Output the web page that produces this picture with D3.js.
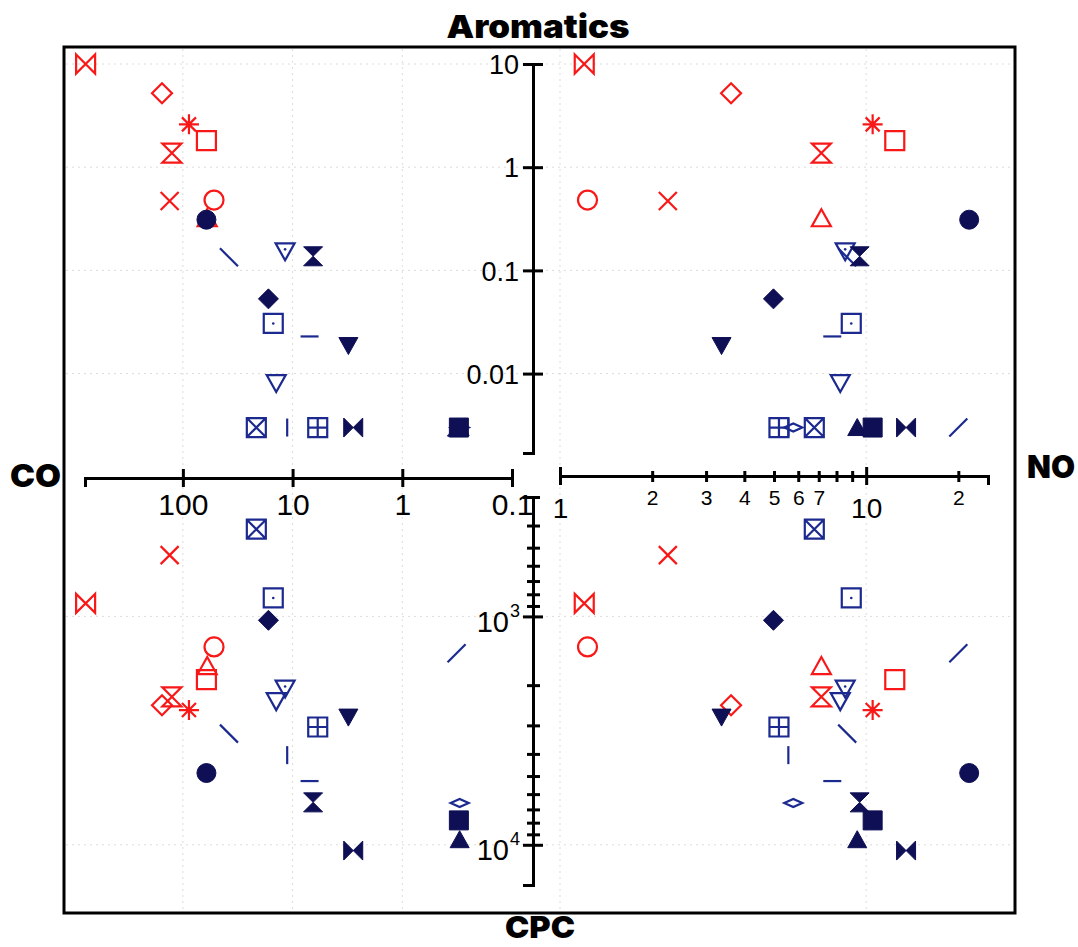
<!DOCTYPE html>
<html>
<head>
<meta charset="utf-8">
<script src="https://cdn.jsdelivr.net/npm/d3@7"></script>
<style>
  body { margin: 0; background: #fff; }
  svg text { font-family: "Liberation Sans", Arial, sans-serif; fill: #000; }
  .title { font-family: Inter, "Liberation Sans", Arial, sans-serif; font-weight: 900; font-size: 32px; }
</style>
</head>
<body>
<div id="chart"></div>
<script>
// one entry per sample, drawn in this order (red group first)
const symbolKeys = [
    "bowtieOpen", "diamondOpen", "asterisk", "squareOpen", "hourglassOpen", "cross", "circleOpen", "triUpOpen",
    "backslash", "slash", "triDownDot", "squareDot", "triDownOpen", "dash", "vbar", "squareX", "squarePlus", "flatDiamond",
    "circleFilled", "hourglassFilled", "diamondFilled", "triDownFilled", "bowtieFilled", "triUpFilled", "squareFilled"
];
const coValues = [770, 155, 88, 61, 126, 132, 52, 60,
    38, 0.32, 11.7, 15, 14.1, 7.0, 11.2, 21.4, 5.9, 0.3,
    61, 6.5, 16.6, 3.1, 2.8, 0.3, 0.305];
const noValues = [1.20, 3.62, 10.5, 12.4, 7.14, 2.25, 1.23, 7.14,
    8.67, 20, 8.54, 8.94, 8.23, 7.75, 5.57, 6.77, 5.19, 5.78,
    21.7, 9.52, 4.98, 3.37, 13.5, 9.35, 10.5];
const aromaticsValues = [10, 5.2, 2.6, 1.81, 1.37, 0.47, 0.48, 0.32,
    0.134, 0.003, 0.153, 0.0306, 0.0081, 0.0229, 0.003, 0.003, 0.003, 0.003,
    0.31, 0.137, 0.053, 0.0187, 0.003, 0.003, 0.003];
const cpcValues = [877, 2450, 2570, 1890, 2250, 539, 1360, 1650,
    3260, 1450, 2070, 830, 2350, 5260, 4050, 415, 3050, 6560,
    4850, 6520, 1040, 2760, 10600, 9500, 7820];

// tick values / labels
const coTicks = [100, 10, 1, 0.1];
const aromaticsTicks = [10, 1, 0.1, 0.01];
const noMajorTicks = [1, 10];
const noMinorTicks = [2, 3, 4, 5, 6, 7, 8, 9, 20];
const noMinorLabels = {2: "2", 3: "3", 4: "4", 5: "5", 6: "6", 7: "7", 20: "2"};
const cpcMajorTicks = [1000, 10000];
const cpcMinorTicks = [300, 400, 500, 600, 700, 800, 900, 2000, 3000, 4000, 5000, 6000, 7000, 8000, 9000];

const data = symbolKeys.map((s, i) => ({
    symbol: s, co: coValues[i], no: noValues[i], arom: aromaticsValues[i], cpc: cpcValues[i]
}));

const width = 1078, height = 947;
const axisX = 533;      // shared vertical axis (Aromatics / CPC)
const coAxisY = 478, noAxisY = 476;

const red = "#f81818", navyLine = "#1c2a90", navyFill = "#0e0f55";

// Scales
const coScale = d3.scaleLog().domain([780, 0.1]).range([85, 512]);
const noScale = d3.scaleLog().domain([1, 25]).range([560, 988]);
const aromScale = d3.scaleLog().domain([0.0017, 10]).range([453, 64]);
const cpcScale = d3.scaleLog().domain([300, 15000]).range([497, 885]);

const svg = d3.select("#chart").append("svg")
    .attr("width", width)
    .attr("height", height);

// faint dotted grid
const grid = svg.append("g").attr("stroke", "#dcdcdc").attr("stroke-dasharray", "2,4").attr("stroke-width", 1);
aromaticsTicks.forEach(v => {
    grid.append("line").attr("x1", 66).attr("x2", 1013).attr("y1", aromScale(v)).attr("y2", aromScale(v));
});
cpcMajorTicks.forEach(v => {
    grid.append("line").attr("x1", 66).attr("x2", 1013).attr("y1", cpcScale(v)).attr("y2", cpcScale(v));
});
[100, 10, 1].forEach(v => {
    grid.append("line").attr("x1", coScale(v)).attr("x2", coScale(v)).attr("y1", 49).attr("y2", 911);
});
[1, 10].forEach(v => {
    grid.append("line").attr("x1", noScale(v)).attr("x2", noScale(v)).attr("y1", 49).attr("y2", 911);
});

// frame
svg.append("rect")
    .attr("x", 64).attr("y", 47).attr("width", 951).attr("height", 866)
    .attr("fill", "none").attr("stroke", "#000").attr("stroke-width", 3);

function styleAxis(g, w) {
    g.select(".domain").attr("stroke", "#000").attr("stroke-width", w);
    g.selectAll(".tick line").attr("stroke", "#000").attr("stroke-width", w);
    g.selectAll("text").attr("fill", "#000").attr("font-family", "'Liberation Sans', Arial, sans-serif");
}

// CO axis (left, reversed)
const coAxis = svg.append("g")
    .attr("transform", `translate(0,${coAxisY})`)
    .call(d3.axisBottom(coScale).tickValues(coTicks).tickFormat(d3.format("~g")).tickSizeOuter(0).tickSize(9));
coAxis.selectAll(".tick line").attr("y1", -9).attr("y2", 9);
coAxis.selectAll(".tick text").attr("y", 37).attr("dy", null).attr("font-size", 30);
styleAxis(coAxis, 3);

// NO axis (right)
const noAxis = svg.append("g")
    .attr("transform", `translate(0,${noAxisY})`)
    .call(d3.axisBottom(noScale).tickValues(noMajorTicks).tickFormat(d3.format("~g")).tickSizeOuter(0).tickSize(9));
noAxis.selectAll(".tick line").attr("y1", -9).attr("y2", 9);
noAxis.selectAll(".tick text").attr("y", 42).attr("dy", null).attr("font-size", 28);
styleAxis(noAxis, 3);
const noMinor = svg.append("g")
    .attr("transform", `translate(0,${noAxisY})`)
    .call(d3.axisBottom(noScale).tickValues(noMinorTicks).tickFormat(d => noMinorLabels[d] || "").tickSizeOuter(0).tickSize(6));
noMinor.select(".domain").remove();
noMinor.selectAll(".tick line").attr("y1", -5).attr("y2", 6);
noMinor.selectAll(".tick text").attr("y", 29).attr("dy", null).attr("font-size", 21);
styleAxis(noMinor, 3);

// Aromatics axis (top)
const aromAxis = svg.append("g")
    .attr("transform", `translate(${axisX},0)`)
    .call(d3.axisLeft(aromScale).tickValues(aromaticsTicks).tickFormat(d3.format("~g")).tickSizeOuter(0).tickSize(10));
aromAxis.selectAll(".tick line").attr("x1", -10).attr("x2", 10);
aromAxis.selectAll(".tick text").attr("x", -14).attr("dy", "0.36em").attr("font-size", 27);
styleAxis(aromAxis, 3);

// CPC axis (bottom, increasing downwards)
const cpcAxis = svg.append("g")
    .attr("transform", `translate(${axisX},0)`)
    .call(d3.axisLeft(cpcScale).tickValues(cpcMajorTicks).tickFormat("").tickSizeOuter(0).tickSize(10));
cpcAxis.selectAll(".tick line").attr("x1", -10).attr("x2", 10);
styleAxis(cpcAxis, 3);
cpcAxis.selectAll(".tick").each(function(d) {
    const t = d3.select(this).append("text")
        .attr("x", -13).attr("y", 15).attr("text-anchor", "end")
        .attr("font-size", 29).attr("fill", "#000");
    t.append("tspan").text("10");
    t.append("tspan").attr("dx", 1).attr("dy", -15).attr("font-size", 18).text(Math.round(Math.log10(d)));
});
const cpcMinor = svg.append("g")
    .attr("transform", `translate(${axisX},0)`)
    .call(d3.axisLeft(cpcScale).tickValues(cpcMinorTicks).tickFormat("").tickSizeOuter(0).tickSize(6));
cpcMinor.select(".domain").remove();
cpcMinor.selectAll(".tick line").attr("x1", -6).attr("x2", 7);
styleAxis(cpcMinor, 3);

// Axis titles
svg.append("text").attr("class", "title").attr("x", 538).attr("y", 38).attr("text-anchor", "middle")
    .attr("textLength", 183).attr("lengthAdjust", "spacingAndGlyphs").text("Aromatics");
svg.append("text").attr("class", "title").attr("x", 10).attr("y", 487)
    .attr("textLength", 51).attr("lengthAdjust", "spacingAndGlyphs").text("CO");
svg.append("text").attr("class", "title").attr("x", 1027).attr("y", 478)
    .attr("textLength", 48).attr("lengthAdjust", "spacingAndGlyphs").text("NO");
svg.append("text").attr("class", "title").attr("x", 540).attr("y", 938).attr("text-anchor", "middle")
    .style("font-size", "30px")
    .attr("textLength", 70).attr("lengthAdjust", "spacingAndGlyphs").text("CPC");

// Marker shapes
const r = 9.5;
const sq = `M${-r},${-r}H${r}V${r}H${-r}Z`;
const circ = rr => `M${rr},0A${rr},${rr} 0 1 1 ${-rr},0A${rr},${rr} 0 1 1 ${rr},0Z`;
const shapes = {
    bowtieOpen:      { d: `M${-r},${-r}L${r},${r}L${r},${-r}L${-r},${r}Z`, color: red, fill: false },
    diamondOpen:     { d: `M0,-10L10,0L0,10L-10,0Z`, color: red, fill: false },
    asterisk:        { d: `M-10,0H10M0,-10V10M-7,-7L7,7M-7,7L7,-7`, color: red, fill: false },
    squareOpen:      { d: sq, color: red, fill: false },
    hourglassOpen:   { d: `M${-r},${-r}L${r},${-r}L${-r},${r}L${r},${r}Z`, color: red, fill: false },
    cross:           { d: `M-9,-9L9,9M-9,9L9,-9`, color: red, fill: false },
    circleOpen:      { d: circ(9.5), color: red, fill: false },
    triUpOpen:       { d: `M0,-9L9.5,8L-9.5,8Z`, color: red, fill: false },
    backslash:       { d: `M-9,-9L9,9`, color: navyLine, fill: false },
    slash:           { d: `M-9,9L9,-9`, color: navyLine, fill: false },
    triDownDot:      { d: `M0,9L9.5,-8L-9.5,-8Z`, color: navyLine, fill: false, dot: true },
    squareDot:       { d: sq, color: navyLine, fill: false, dot: true },
    triDownOpen:     { d: `M0,9L9.5,-8L-9.5,-8Z`, color: navyLine, fill: false },
    dash:            { d: `M-9,0H9`, color: navyLine, fill: false },
    vbar:            { d: `M0,-9V9`, color: navyLine, fill: false },
    squareX:         { d: sq + `M${-r},${-r}L${r},${r}M${-r},${r}L${r},${-r}`, color: navyLine, fill: false },
    squarePlus:      { d: sq + `M${-r},0H${r}M0,${-r}V${r}`, color: navyLine, fill: false },
    flatDiamond:     { d: `M-9,0L0,-4L9,0L0,4Z`, color: navyLine, fill: false },
    circleFilled:    { d: circ(9.5), color: navyFill, fill: true },
    hourglassFilled: { d: `M${-r},${-r}L${r},${-r}L${-r},${r}L${r},${r}Z`, color: navyFill, fill: true },
    diamondFilled:   { d: `M0,-10L10,0L0,10L-10,0Z`, color: navyFill, fill: true },
    triDownFilled:   { d: `M0,9L9.5,-8L-9.5,-8Z`, color: navyFill, fill: true },
    bowtieFilled:    { d: `M${-r},${-r}L${r},${r}L${r},${-r}L${-r},${r}Z`, color: navyFill, fill: true },
    triUpFilled:     { d: `M0,-9L9.5,8L-9.5,8Z`, color: navyFill, fill: true },
    squareFilled:    { d: sq, color: navyFill, fill: true }
};

// four quadrants: [x accessor, y accessor]
const quadrants = [
    { x: d => coScale(d.co), y: d => aromScale(d.arom) },
    { x: d => noScale(d.no), y: d => aromScale(d.arom) },
    { x: d => coScale(d.co), y: d => cpcScale(d.cpc) },
    { x: d => noScale(d.no), y: d => cpcScale(d.cpc) }
];

quadrants.forEach(q => {
    const marks = svg.append("g").selectAll("g")
        .data(data)
        .enter()
        .append("g")
        .attr("transform", d => `translate(${q.x(d)},${q.y(d)})`);

    marks.append("path")
        .attr("d", d => shapes[d.symbol].d)
        .attr("fill", d => shapes[d.symbol].fill ? shapes[d.symbol].color : "none")
        .attr("stroke", d => shapes[d.symbol].color)
        .attr("stroke-width", d => shapes[d.symbol].fill ? 1 : 2.2)
        .attr("stroke-linejoin", "miter");

    marks.filter(d => shapes[d.symbol].dot)
        .append("circle")
        .attr("cy", d => d.symbol === "triDownDot" ? -2 : 0)
        .attr("r", 1.3)
        .attr("fill", d => shapes[d.symbol].color);
});
</script>
</body>
</html>
